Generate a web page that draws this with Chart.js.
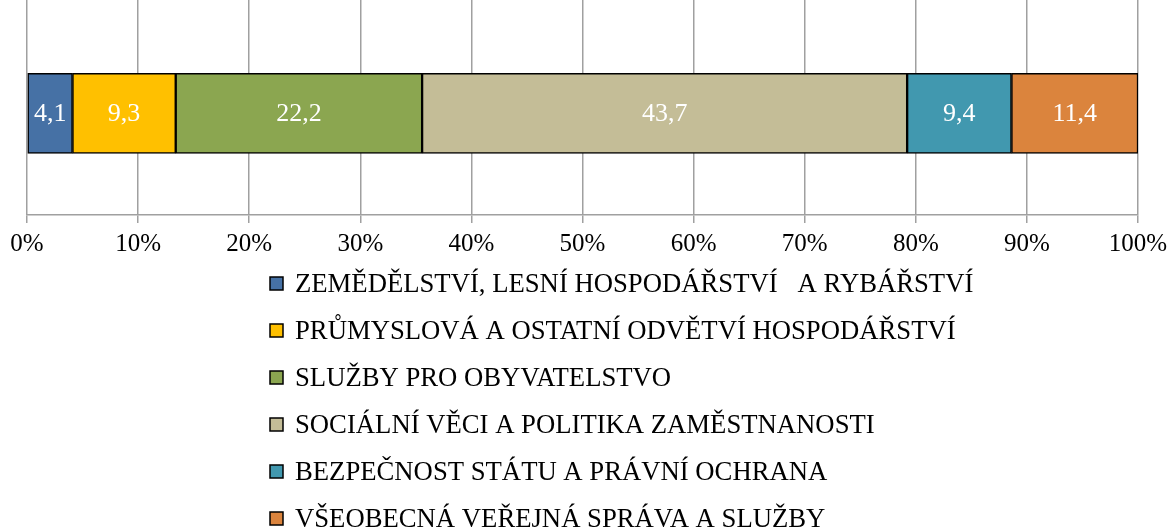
<!DOCTYPE html>
<html>
<head>
<meta charset="utf-8">
<script src="https://cdn.jsdelivr.net/npm/chart.js@4/dist/chart.umd.min.js"></script>
<style>
html,body{margin:0;padding:0;background:#fff;}
#wrap{position:relative;width:1171px;height:531px;}
</style>
</head>
<body>
<div id="wrap"><canvas id="c" width="1171" height="531"></canvas></div>
<script>
const categories = [
  "ZEMĚDĚLSTVÍ, LESNÍ HOSPODÁŘSTVÍ   A RYBÁŘSTVÍ",
  "PRŮMYSLOVÁ A OSTATNÍ ODVĚTVÍ HOSPODÁŘSTVÍ",
  "SLUŽBY PRO OBYVATELSTVO",
  "SOCIÁLNÍ VĚCI A POLITIKA ZAMĚSTNANOSTI",
  "BEZPEČNOST STÁTU A PRÁVNÍ OCHRANA",
  "VŠEOBECNÁ VEŘEJNÁ SPRÁVA A SLUŽBY"
];
const values = [4.1, 9.3, 22.2, 43.7, 9.4, 11.4];
const colors = ["#4671A5", "#FFC000", "#8BA650", "#C4BD97", "#4198AF", "#DB843D"];
const tickLabels = ["0%","10%","20%","30%","40%","50%","60%","70%","80%","90%","100%"];

const total = values.reduce((a, b) => a + b, 0);
const FONT = "'Liberation Serif', 'Times New Roman', serif";

const datasets = categories.map((name, i) => ({
  label: name,
  data: [{ x: values[i] / total * 100, y: 0 }],
  rawValue: values[i],
  backgroundColor: colors[i],
  borderColor: "#000",
  borderWidth: 1.5,
  borderSkipped: false,
  barThickness: 80
}));

const valueLabels = {
  id: "valueLabels",
  afterDatasetsDraw(chart) {
    const ctx = chart.ctx;
    ctx.save();
    ctx.fillStyle = "#fff";
    ctx.font = "26px " + FONT;
    ctx.textAlign = "center";
    ctx.textBaseline = "middle";
    chart.data.datasets.forEach((ds, i) => {
      const meta = chart.getDatasetMeta(i);
      meta.data.forEach(bar => {
        const cx = (bar.x + bar.base) / 2;
        ctx.fillText(String(ds.rawValue).replace(".", ","), cx, bar.y + 1);
      });
    });
    ctx.restore();
  }
};

const customLegend = {
  id: "customLegend",
  afterDraw(chart) {
    const ctx = chart.ctx;
    ctx.save();
    ctx.font = "26.7px " + FONT;
    ctx.textBaseline = "middle";
    ctx.textAlign = "left";
    const x0 = 270, y0 = 277, step = 47, box = 13;
    chart.data.datasets.forEach((ds, i) => {
      const y = y0 + i * step;
      ctx.fillStyle = ds.backgroundColor;
      ctx.fillRect(x0, y, box, box);
      ctx.lineWidth = 1.5;
      ctx.strokeStyle = "#000";
      ctx.strokeRect(x0, y, box, box);
      ctx.fillStyle = "#000";
      ctx.fillText(ds.label, x0 + 25, y + box / 2 + 1);
    });
    ctx.restore();
  }
};

new Chart(document.getElementById("c"), {
  type: "bar",
  data: { datasets },
  options: {
    indexAxis: "y",
    responsive: false,
    animation: false,
    layout: { padding: { left: 27, right: 33, top: 0, bottom: 266 } },
    plugins: { legend: { display: false }, tooltip: { enabled: false } },
    scales: {
      x: {
        type: "linear",
        stacked: true,
        min: 0,
        max: 100,
        afterFit(scale) { scale.paddingLeft = 0; scale.paddingRight = 0; },
        grid: { color: "#A0A0A0", lineWidth: 1.5, tickLength: 8, drawTicks: true },
        border: { color: "#A0A0A0", width: 1.5 },
        ticks: {
          stepSize: 10,
          padding: 6,
          color: "#000",
          font: { family: FONT, size: 25 },
          maxRotation: 0,
          callback: (v) => tickLabels[Math.round(v / 10)]
        }
      },
      y: {
        type: "linear",
        stacked: true,
        min: -100,
        max: 114,
        display: false
      }
    }
  },
  plugins: [valueLabels, customLegend]
});
</script>
</body>
</html>
